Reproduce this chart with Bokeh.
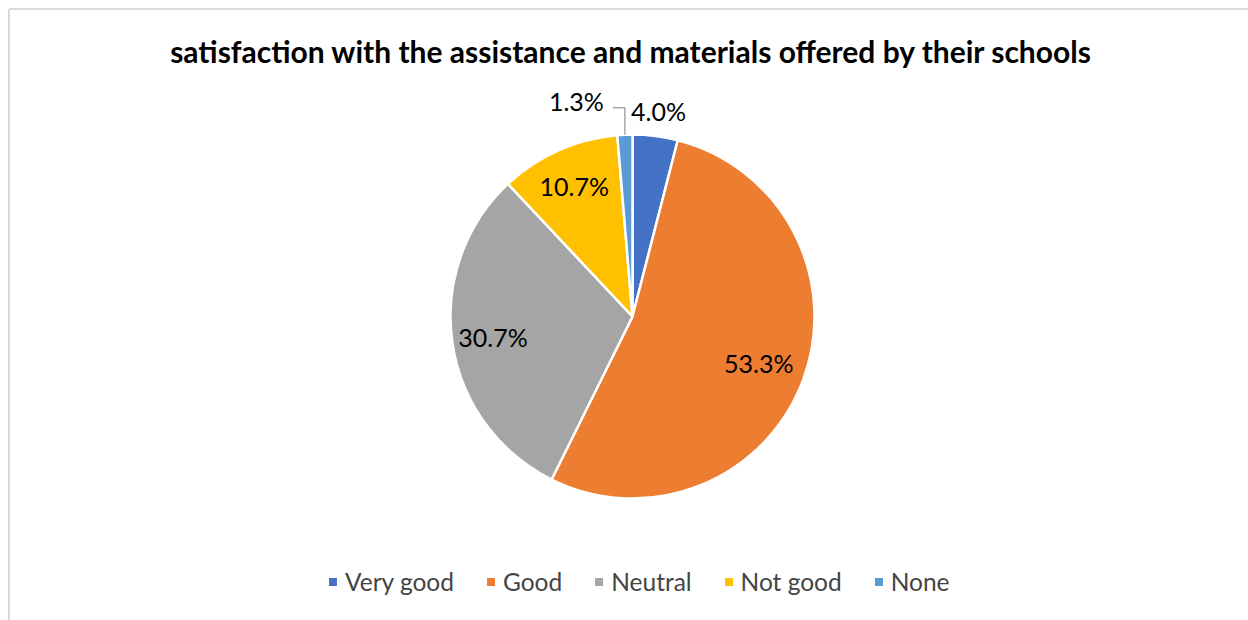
import numpy as np
from bokeh.plotting import figure
from bokeh.models import ColumnDataSource, Range1d
from bokeh.core.properties import value
from bokeh.embed import file_html
from bokeh.resources import INLINE

# ---- data ----
categories = ["Very good", "Good", "Neutral", "Not good", "None"]
counts = [3, 40, 23, 8, 1]
colors = ["#4472C4", "#ED7D31", "#A5A5A5", "#FFC000", "#5B9BD5"]
title_text = "satisfaction with the assistance and materials offered by their schools"

# ---- layout ----
W, H = 1248, 620
cx, cy, r = 632, 304, 182
label_factor = [1.14, 0.74, 0.775, 0.787, None]
FONT = "Lato"

vals = np.array(counts, dtype=float)
frac = vals / vals.sum()
cum_end = np.cumsum(frac)
cum_start = cum_end - frac
start = np.pi / 2 - 2 * np.pi * cum_start
end = np.pi / 2 - 2 * np.pi * cum_end
mid_cw = 2 * np.pi * (cum_start + cum_end) / 2  # clockwise from top
pct = [f"{f*100:.1f}%" for f in frac]

src = ColumnDataSource(dict(cat=categories, start=start, end=end, color=colors))

p = figure(width=W, height=H, output_backend="svg", toolbar_location=None,
           x_range=Range1d(0, W), y_range=Range1d(0, H),
           x_axis_location=None, y_axis_location=None, min_border=0,
           outline_line_color=None, background_fill_color="white",
           border_fill_color="white")
p.grid.visible = False

# chart border (top & left visible)
p.segment(x0=[8.5, 8.5], y0=[H - 8.5, 0], x1=[W, 8.5], y1=[H - 8.5, H - 8.5],
          line_color="#d9d9d9", line_width=2)

p.wedge(x=cx, y=cy, radius=r, start_angle="start", end_angle="end",
        direction="clock", fill_color="color", line_color="white",
        line_width=2.5, legend_field="cat", source=src)

# labels
lx, ly, lt = [], [], []
for i, f in enumerate(label_factor):
    if f is None:
        continue
    d = f * r
    lx.append(cx + d * np.sin(mid_cw[i]))
    ly.append(cy + d * np.cos(mid_cw[i]))
    lt.append(pct[i])
p.text(x=lx, y=ly, text=lt, text_align="center", text_baseline="middle",
       text_font=value(FONT), text_font_size="25px", text_color="#000000")

# None label with leader line
i = 4
ex = cx + r * np.sin(mid_cw[i])
ey = cy + r * np.cos(mid_cw[i])
top_y = ey + 27
p.line(x=[ex, ex, ex - 12], y=[ey, top_y, top_y], line_color="#a6a6a6", line_width=1.5)
p.text(x=[ex - 21], y=[top_y + 7], text=[pct[i]], text_align="right",
       text_baseline="middle", text_font=value(FONT), text_font_size="25px",
       text_color="#000000")

# title
p.text(x=[631], y=[H - 50], text=[title_text], text_align="center",
       text_baseline="middle", text_font=value(FONT), text_font_size="30px",
       text_font_style="bold", text_color="#000000")

lg = p.legend[0]
lg.orientation = "horizontal"
lg.location = (326, 24)
lg.border_line_color = None
lg.background_fill_alpha = 0
lg.label_text_font = FONT
lg.label_text_font_size = "24.5px"
lg.glyph_width = 13
lg.glyph_height = 13
lg.label_standoff = 6
lg.spacing = 30
lg.padding = 0
lg.margin = 0

open("out.html", "w").write(file_html(p, INLINE))
